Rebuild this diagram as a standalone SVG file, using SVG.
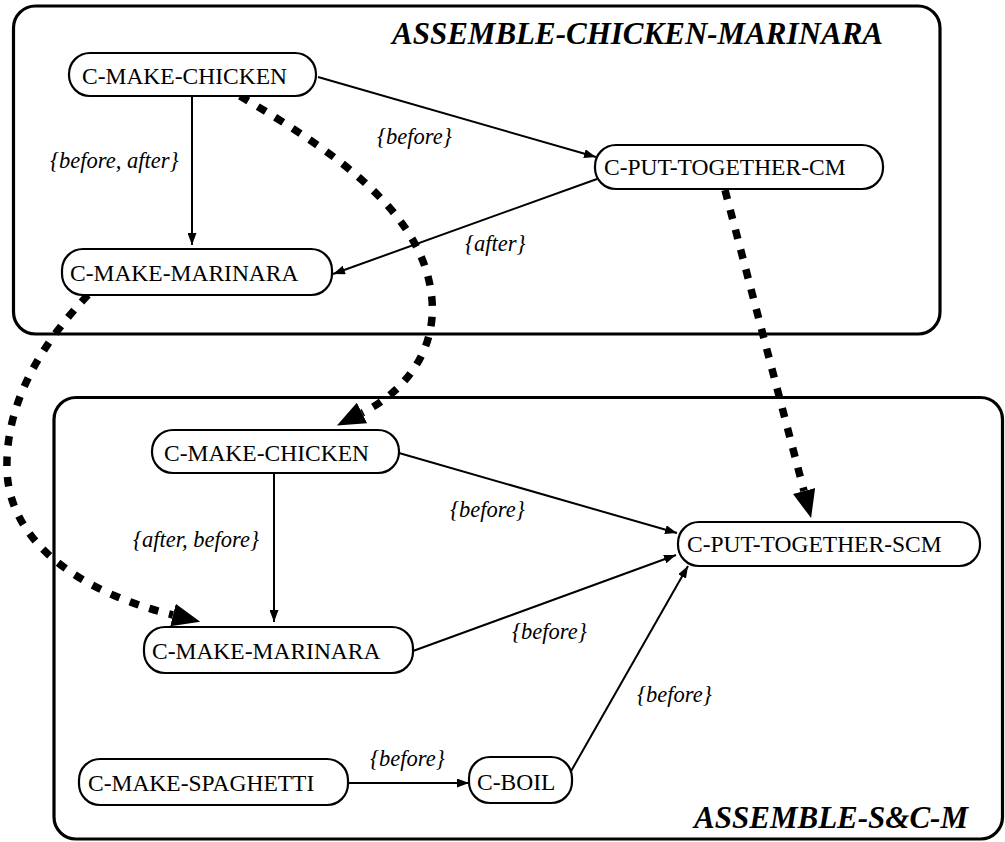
<svg xmlns="http://www.w3.org/2000/svg" width="1005" height="842" viewBox="0 0 1005 842">
  <defs>
    <style>
      .frame { fill: none; stroke: #000; stroke-width: 3.2; }
      .node rect { fill: #fff; stroke: #000; stroke-width: 2.2; }
      .node text { font-family: "Liberation Serif", "Times New Roman", serif; font-size: 23.5px; fill: #000; }
      .title { font-family: "Liberation Serif", "Times New Roman", serif; font-size: 31px; font-weight: bold; font-style: italic; fill: #000; }
      .edge { fill: none; stroke: #000; stroke-width: 2; marker-end: url(#arrow); }
      .link { fill: none; stroke: #000; stroke-width: 7.5; stroke-dasharray: 9.5 11; marker-end: url(#bigArrow); }
      .label { font-family: "Liberation Serif", "Times New Roman", serif; font-size: 22.5px; font-style: italic; fill: #000; }
    </style>
    <marker id="arrow" markerUnits="userSpaceOnUse" viewBox="0 0 12 9" refX="12" refY="4.5" markerWidth="12" markerHeight="9" orient="auto">
      <path d="M0,0 L12,4.5 L0,9 z" fill="#000"/>
    </marker>
    <marker id="bigArrow" markerUnits="userSpaceOnUse" viewBox="0 0 28 23" refX="0" refY="11.5" markerWidth="28" markerHeight="23" orient="auto">
      <path d="M0,0 L28,11.5 L0,23 z" fill="#000"/>
    </marker>
  </defs>

  <rect width="1005" height="842" fill="#fff"/>

  <!-- plan containers -->
  <g id="assemble-chicken-marinara">
    <rect class="frame" x="13.5" y="6" width="926.5" height="328" rx="22"/>
    <text class="title" x="883" y="44" text-anchor="end">ASSEMBLE-CHICKEN-MARINARA</text>
  </g>
  <g id="assemble-scm">
    <rect class="frame" x="54" y="397.5" width="948.5" height="441.5" rx="22"/>
    <text class="title" x="968" y="828" text-anchor="end">ASSEMBLE-S&amp;C-M</text>
  </g>

  <!-- connectors -->
  <g id="connectors">
    <path class="edge" d="M318,77 L596,157"/>
    <path class="edge" d="M192,96 L192,245"/>
    <path class="edge" d="M597,179 L333,274"/>
    <path class="edge" d="M274,473 L274,622"/>
    <path class="edge" d="M399,453 L677,533"/>
    <path class="edge" d="M413,651 L676,555"/>
    <path class="edge" d="M570,773 L688,566"/>
    <path class="edge" d="M348,783 L469,783"/>

    <text class="label" x="377" y="144">{before}</text>
    <text class="label" x="50" y="168">{before, after}</text>
    <text class="label" x="465" y="251">{after}</text>
    <text class="label" x="133" y="547">{after, before}</text>
    <text class="label" x="450" y="517">{before}</text>
    <text class="label" x="512" y="639">{before}</text>
    <text class="label" x="637" y="702">{before}</text>
    <text class="label" x="370" y="766">{before}</text>

    <!-- correspondence links between the two plans -->
    <path class="link" d="M240,96 C340,155 425,215 432,300 C436,350 406,391 362,413"/>
    <path class="link" d="M88,295 C40,345 5,405 7,470 C9,540 76,591 173,615"/>
    <path class="link" d="M725,190 L804,491"/>
  </g>

  <!-- nodes -->
  <g id="n-make-chicken-cm" class="node">
    <rect x="69" y="53" width="247" height="43" rx="21"/>
    <text x="82" y="84">C-MAKE-CHICKEN</text>
  </g>
  <g id="n-make-marinara-cm" class="node">
    <rect x="62" y="249" width="270" height="46" rx="21"/>
    <text x="70" y="281">C-MAKE-MARINARA</text>
  </g>
  <g id="n-put-together-cm" class="node">
    <rect x="595" y="145" width="288" height="44" rx="21"/>
    <text x="604" y="175">C-PUT-TOGETHER-CM</text>
  </g>
  <g id="n-make-chicken-scm" class="node">
    <rect x="152" y="430" width="247" height="43" rx="21"/>
    <text x="164" y="461">C-MAKE-CHICKEN</text>
  </g>
  <g id="n-make-marinara-scm" class="node">
    <rect x="144" y="627" width="269" height="46" rx="21"/>
    <text x="152" y="659">C-MAKE-MARINARA</text>
  </g>
  <g id="n-make-spaghetti" class="node">
    <rect x="79" y="759" width="269" height="46" rx="21"/>
    <text x="88" y="791">C-MAKE-SPAGHETTI</text>
  </g>
  <g id="n-boil" class="node">
    <rect x="469" y="757" width="103" height="46" rx="21"/>
    <text x="477" y="790">C-BOIL</text>
  </g>
  <g id="n-put-together-scm" class="node">
    <rect x="678" y="522" width="302" height="44" rx="21"/>
    <text x="687" y="552">C-PUT-TOGETHER-SCM</text>
  </g>
</svg>
